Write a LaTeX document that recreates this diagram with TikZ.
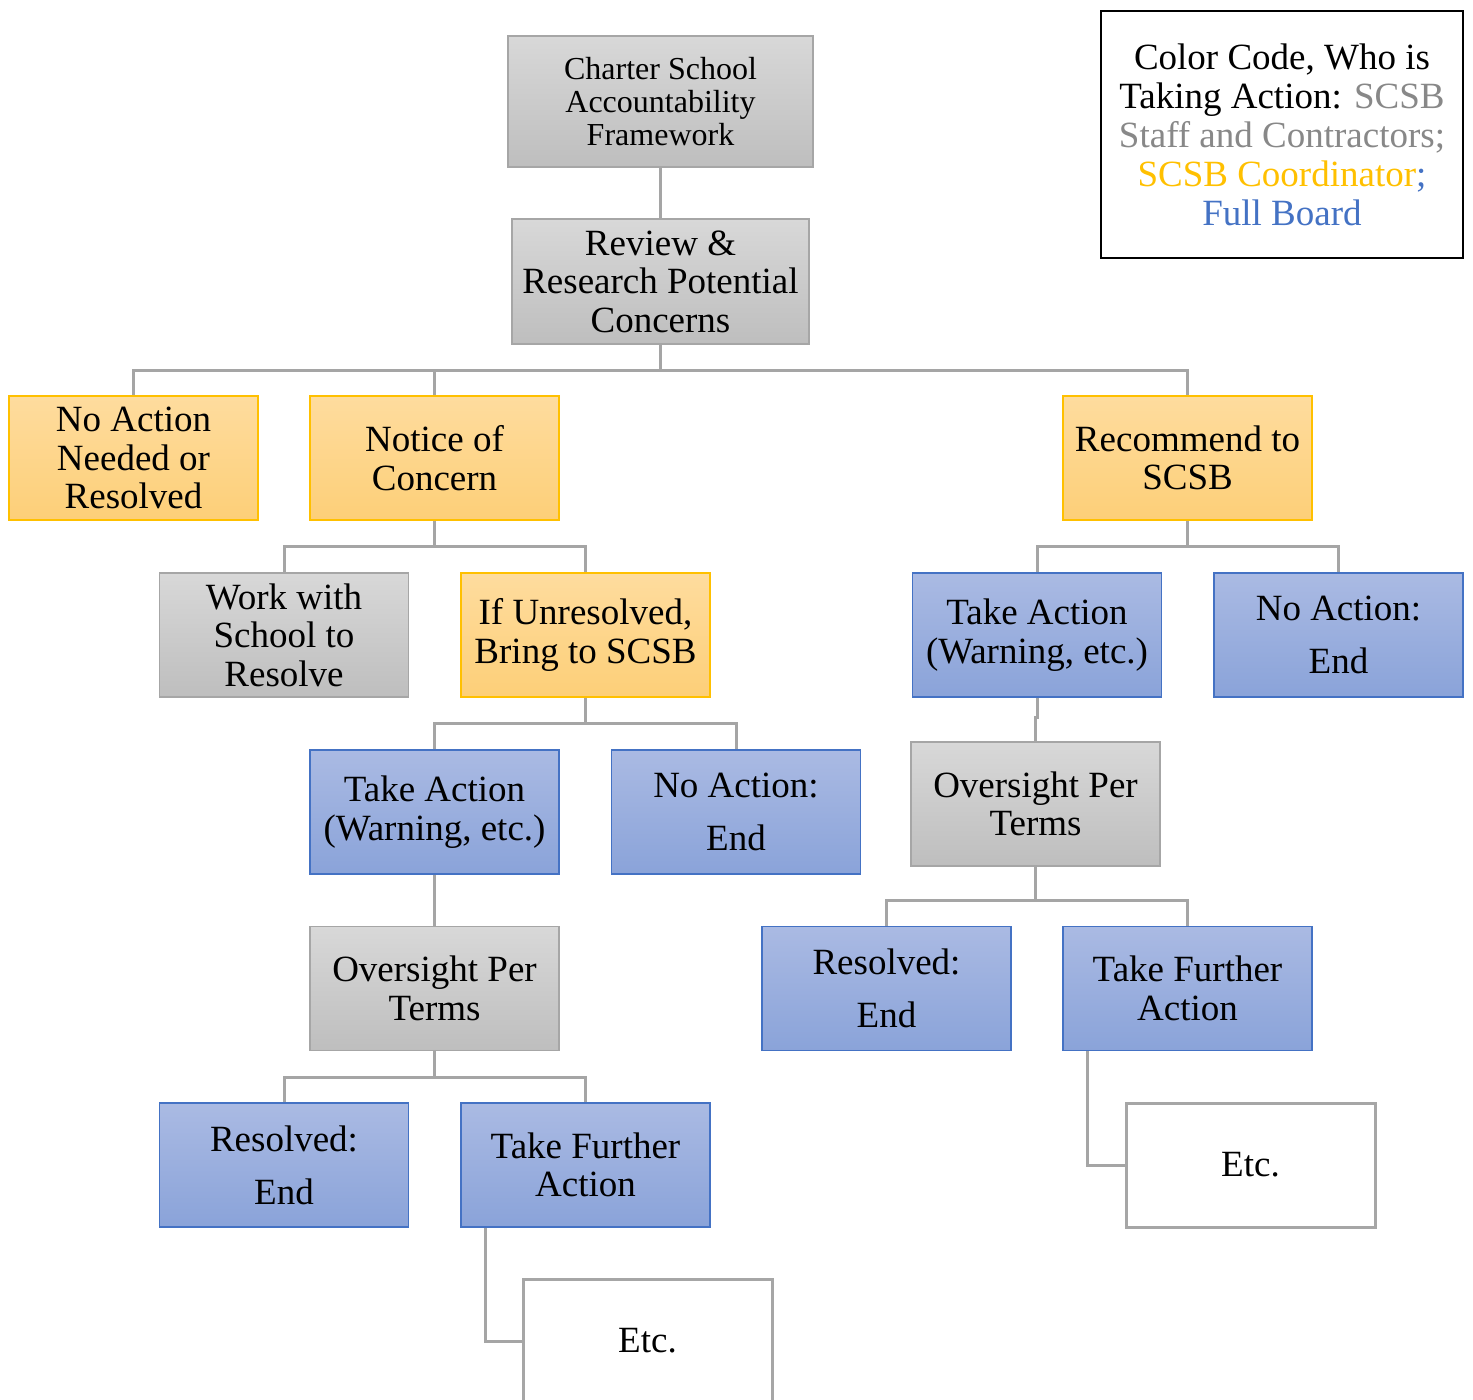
\documentclass[tikz,border=0pt]{standalone}
\usepackage{fontspec}
\setmainfont{Liberation Serif}
\definecolor{gtop}{HTML}{D8D8D8}
\definecolor{gbot}{HTML}{BEBEBE}
\definecolor{gline}{HTML}{A6A6A6}
\definecolor{otop}{HTML}{FEDC9E}
\definecolor{obot}{HTML}{FDCF78}
\definecolor{oline}{HTML}{FFC000}
\definecolor{btop}{HTML}{AABAE3}
\definecolor{bbot}{HTML}{8AA3D9}
\definecolor{bline}{HTML}{4472C4}
\definecolor{conncol}{HTML}{A5A5A5}
\definecolor{legray}{HTML}{888888}
\begin{document}
\begin{tikzpicture}[x=1pt,y=-1pt,
  boxbase/.style={rectangle, inner sep=0pt, minimum width=249, minimum height=124, align=center, line width=1.5pt, font=\fontsize{37}{38.5}\selectfont},
  grayfill/.style={boxbase, draw=gline, top color=gtop, bottom color=gbot},
  orgfill/.style={boxbase, draw=oline, top color=otop, bottom color=obot},
  bluefill/.style={boxbase, draw=bline, top color=btop, bottom color=bbot},
  etcbox/.style={boxbase, draw=gline, fill=white, line width=3pt},
  wide/.style={font=\fontsize{37}{53}\selectfont},
  conn/.style={draw=conncol, line width=3pt}]
\useasboundingbox (0,0) rectangle (1473,1400);
\clip (0,0) rectangle (1473,1400);
\fill[white] (0,0) rectangle (1473,1400);

% nodes
\node[grayfill, minimum width=305, minimum height=131, font=\fontsize{32}{33}\selectfont] (top) at (660.5,101.5) {Charter School\\Accountability\\Framework};
\node[grayfill, minimum width=297, minimum height=125] (review) at (660.5,281.5) {Review \&\\Research Potential\\Concerns};

\node[orgfill] (noact) at (133.5,458) {No Action\\Needed or\\Resolved};
\node[orgfill] (notice) at (434.5,458) {Notice of\\Concern};
\node[orgfill] (recom) at (1187.5,458) {Recommend to\\SCSB};

\node[grayfill] (work) at (284,635) {Work with\\School to\\Resolve};
\node[orgfill] (unres) at (585.5,635) {If Unresolved,\\Bring to SCSB};

\node[bluefill] (tar) at (1037,635) {Take Action\\(Warning, etc.)};
\node[bluefill, wide] (nar) at (1338.5,635) {No Action:\\End};
\node[grayfill] (ovr) at (1035.5,804) {Oversight Per\\Terms};

\node[bluefill] (tal) at (434.5,812) {Take Action\\(Warning, etc.)};
\node[bluefill, wide] (nal) at (736,812) {No Action:\\End};
\node[grayfill] (ovl) at (434.5,988.5) {Oversight Per\\Terms};

\node[bluefill, wide] (resl) at (284,1165) {Resolved:\\End};
\node[bluefill] (tfl) at (585.5,1165) {Take Further\\Action};
\node[etcbox] (etcl) at (647.5,1341) {Etc.};

\node[bluefill, wide] (resr) at (886.5,988.5) {Resolved:\\End};
\node[bluefill] (tfr) at (1187.5,988.5) {Take Further\\Action};
\node[etcbox] (etcr) at (1250.5,1165) {Etc.};

\node[rectangle, draw=black, line width=2.5pt, minimum width=362, minimum height=247, inner sep=0pt, align=center, font=\fontsize{37}{39}\selectfont] (legend) at (1282,134.5)
 {Color Code, Who is\\Taking Action: \textcolor{legray}{SCSB}\\\textcolor{legray}{Staff and Contractors;}\\\textcolor{oline}{SCSB Coordinator}\textcolor{bline}{;}\\\textcolor{bline}{Full Board}};

% connectors
\draw[conn] (top.south) -- (review.north);
\coordinate (b1) at (660.5,370);
\draw[conn] (review.south) -- (b1);
\draw[conn] (b1) -| (noact.north);
\draw[conn] (b1) -| (notice.north);
\draw[conn] (b1) -| (recom.north);

\coordinate (b2) at (434.5,546);
\draw[conn] (notice.south) -- (b2);
\draw[conn] (b2) -| (work.north);
\draw[conn] (b2) -| (unres.north);

\coordinate (b3) at (1187.5,546);
\draw[conn] (recom.south) -- (b3);
\draw[conn] (b3) -| (tar.north);
\draw[conn] (b3) -| (nar.north);

\draw[conn] (tar.south) -- ++(0,20) -| (ovr.north);

\coordinate (b4) at (585.5,723);
\draw[conn] (unres.south) -- (b4);
\draw[conn] (b4) -| (tal.north);
\draw[conn] (b4) -| (nal.north);

\draw[conn] (tal.south) -- (ovl.north);

\coordinate (b5) at (434.5,1077);
\draw[conn] (ovl.south) -- (b5);
\draw[conn] (b5) -| (resl.north);
\draw[conn] (b5) -| (tfl.north);
\draw[conn] ([xshift=25pt]tfl.south west) |- (etcl.west);

\coordinate (b6) at (1035.5,900);
\draw[conn] (ovr.south) -- (b6);
\draw[conn] (b6) -| (resr.north);
\draw[conn] (b6) -| (tfr.north);
\draw[conn] ([xshift=25pt]tfr.south west) |- (etcr.west);
\end{tikzpicture}
\end{document}
